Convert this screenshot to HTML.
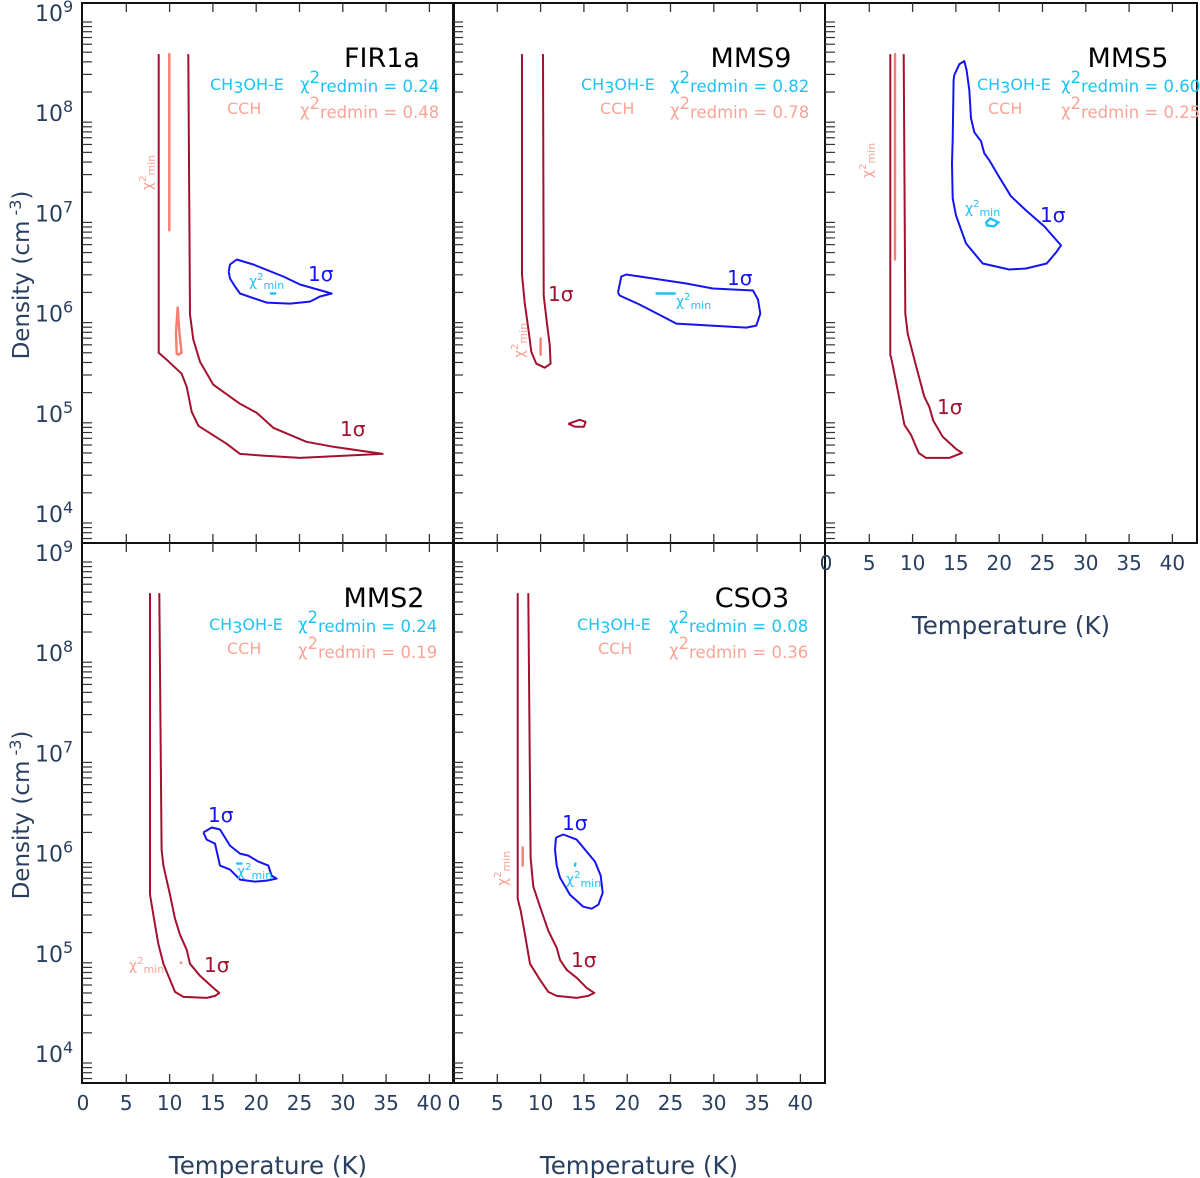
<!DOCTYPE html>
<html><head><meta charset="utf-8"><title>Contour panels</title>
<style>
html,body{margin:0;padding:0;background:#fff;}
svg{display:block;font-family:"DejaVu Sans","Liberation Sans",sans-serif;}
</style></head>
<body>
<svg id="chart" width="1200" height="1178" viewBox="0 0 1200 1178" xmlns="http://www.w3.org/2000/svg"></svg>
<script>
// ---- data (Temperature K, log10 density) ----
const xTicks = [5,10,15,20,25,30,35,40];
const xTickLabels = ['0','5','10','15','20','25','30','35','40'];
const xTickLabelValues = [0,5,10,15,20,25,30,35,40];
const yDecades = [4,5,6,7,8,9];

const fir1aRed = [[8.74,8.68],[8.74,5.70],[9.66,5.63],[11.39,5.49],[11.97,5.36],[12.55,5.11],[13.32,4.97],[16.59,4.79],[18.13,4.69],[21.21,4.67],[25.06,4.65],[34.6,4.69],[28.9,4.76],[25.8,4.81],[21.98,4.95],[20.06,5.10],[18.13,5.19],[15.05,5.38],[13.51,5.61],[12.74,5.83],[12.36,6.08],[12.16,8.68]];
const fir1aCch = [[9.97,8.68],[9.97,6.92]];
const fir1aCchLoop = [[10.82,5.69],[10.74,5.90],[10.94,6.16],[11.13,5.90],[11.39,5.70],[11.0,5.68],[10.82,5.69]];
const fir1aBlue = [[16.82,6.51],[16.97,6.58],[17.75,6.63],[19.67,6.58],[23.13,6.46],[25.06,6.38],[28.72,6.29],[27.37,6.26],[26.2,6.21],[23.9,6.19],[21.2,6.20],[18.13,6.29],[17.55,6.36],[16.97,6.44],[16.82,6.51]];
const fir1aCyanMin = [[21.7,6.29],[22.2,6.29]];

const mms9Red = [[7.85,8.68],[7.85,6.48],[8.16,6.20],[8.66,5.89],[8.93,5.71],[9.5,5.59],[10.47,5.55],[11.16,5.59],[11.05,5.78],[10.74,5.99],[10.36,6.27],[10.28,8.68]];
const mms9RedLoop = [[13.2,4.99],[14.5,5.03],[15.2,5.01],[15.0,4.96],[14.0,4.96],[13.2,4.99]];
const mms9CchMin = [[10.0,5.84],[10.0,5.68]];
const mms9Blue = [[18.94,6.30],[19.32,6.46],[19.9,6.48],[22.98,6.44],[26.83,6.39],[29.9,6.34],[34.53,6.32],[35.1,6.23],[35.37,6.09],[34.91,5.97],[33.76,5.95],[25.67,5.99],[24.13,6.06],[21.44,6.18],[19.13,6.27],[18.94,6.30]];
const mms9CyanMin = [[23.4,6.29],[25.5,6.29]];

const mms5Red = [[7.43,8.68],[7.43,5.68],[7.62,5.61],[8.2,5.36],[9.05,4.98],[9.82,4.88],[10.7,4.70],[11.55,4.65],[14.24,4.65],[15.7,4.70],[15.01,4.74],[13.47,4.86],[12.39,5.02],[11.93,5.16],[11.35,5.26],[10.39,5.57],[9.43,5.89],[9.16,6.09],[8.97,8.68]];
const mms5Cch = [[7.97,8.68],[7.97,6.63]];
const mms5Blue = [[14.82,8.47],[15.4,8.58],[15.97,8.61],[16.24,8.52],[16.55,8.32],[16.74,8.04],[17.13,7.90],[17.9,7.81],[18.28,7.69],[18.86,7.62],[20.01,7.45],[21.36,7.26],[23.09,7.12],[25.21,6.96],[27.14,6.77],[26.56,6.70],[25.48,6.59],[23.09,6.54],[21.17,6.53],[18.09,6.59],[16.17,6.79],[15.01,7.07],[14.63,7.24],[14.55,7.59],[14.63,7.83],[14.74,8.42],[14.82,8.47]];
const mms5CyanMin = [[18.5,7.0],[19.0,7.04],[19.9,7.0],[19.4,6.96],[18.6,6.97],[18.5,7.0]];

const mms2Red = [[7.74,8.69],[7.74,5.68],[8.2,5.44],[8.7,5.19],[9.28,4.99],[10.05,4.83],[10.62,4.71],[11.59,4.66],[14.28,4.65],[15.24,4.67],[15.74,4.70],[15.05,4.75],[13.51,4.87],[12.36,4.99],[11.97,5.13],[11.2,5.28],[10.62,5.44],[10.05,5.68],[9.28,5.97],[9.08,6.13],[8.81,8.69]];
const mms2CchMin = [[11.3,5.0],[11.35,5.0]];
const mms2Blue = [[13.9,6.30],[14.86,6.35],[15.82,6.33],[16.97,6.17],[18.13,6.09],[19.09,6.07],[20.24,6.01],[21.4,5.97],[21.78,5.87],[22.36,5.84],[21.2,5.82],[19.86,5.81],[18.13,5.83],[16.97,5.93],[15.82,5.97],[15.24,6.19],[14.28,6.23],[13.9,6.30]];
const mms2CyanMin = [[17.8,5.99],[18.3,5.99]];

const cso3Red = [[7.35,8.69],[7.35,5.64],[7.7,5.52],[8.2,5.28],[8.78,4.99],[9.35,4.91],[9.93,4.83],[10.89,4.71],[11.86,4.67],[14.17,4.65],[15.51,4.67],[16.2,4.70],[15.32,4.75],[14.17,4.85],[13.01,4.93],[12.24,5.03],[11.86,5.15],[10.89,5.32],[9.93,5.56],[9.16,5.76],[8.85,6.05],[8.58,8.69]];
const cso3CchMin = [[7.93,6.15],[7.93,5.97]];
const cso3Blue = [[11.78,6.25],[12.62,6.28],[14.17,6.23],[15.13,6.13],[16.28,6.01],[16.94,5.87],[17.17,5.70],[16.67,5.58],[15.9,5.54],[14.93,5.56],[13.39,5.68],[12.24,5.85],[11.86,5.97],[11.66,6.13],[11.78,6.25]];
const cso3CyanMin = [[13.97,5.97],[14.02,5.99]];

const chi2Methanol = ['0.24','0.82','0.60','0.24','0.08'];
const chi2Cch = ['0.48','0.78','0.25','0.19','0.36'];

// ---- layout ----
const NS='http://www.w3.org/2000/svg';
const svg=document.getElementById('chart');
const RED='#a3112e', PINK='#f47e70', PINKTXT='#f9a497', BLUE='#1414f0', CYAN='#1fc2f5', AXC='#2a3f5f';
const panels=[
 {id:'fir1a',title:'FIR1a',left:82,top:3,red:[fir1aRed],pink:[fir1aCch,fir1aCchLoop],blue:fir1aBlue,cyan:fir1aCyanMin,ci:0,
  titleX:382,legX:210,chiX:300,cchX:227,
  blue1s:[308,281],red1s:[340,436],cyanLbl:[249,286],pinkLbl:{x:152,y:190,rot:true}},
 {id:'mms9',title:'MMS9',left:453,top:3,red:[mms9Red,mms9RedLoop],pink:[mms9CchMin],blue:mms9Blue,cyan:mms9CyanMin,ci:1,
  titleX:751,legX:581,chiX:670,cchX:600,
  blue1s:[727,285],red1s:[548,301],cyanLbl:[676,306],pinkLbl:{x:524,y:358,rot:true}},
 {id:'mms5',title:'MMS5',left:825,top:3,red:[mms5Red],pink:[mms5Cch],blue:mms5Blue,cyan:mms5CyanMin,ci:2,
  titleX:1128,legX:977,chiX:1061,cchX:988,
  blue1s:[1040,222],red1s:[937,414],cyanLbl:[965,213],pinkLbl:{x:872,y:178,rot:true}},
 {id:'mms2',title:'MMS2',left:82,top:543,red:[mms2Red],pink:[mms2CchMin],blue:mms2Blue,cyan:mms2CyanMin,ci:3,
  titleX:384,legX:209,chiX:298,cchX:227,
  blue1s:[208,822],red1s:[204,972],cyanLbl:[237,876],pinkLbl:{x:129,y:970,rot:false}},
 {id:'cso3',title:'CSO3',left:453,top:543,red:[cso3Red],pink:[cso3CchMin],blue:cso3Blue,cyan:cso3CyanMin,ci:4,
  titleX:752,legX:577,chiX:669,cchX:598,
  blue1s:[562,830],red1s:[571,967],cyanLbl:[566,884],pinkLbl:{x:507,y:886,rot:true}}
];
const W=372,H=540;
function px(p,T){return p.left+1+8.66*T;}
function py(p,L){return p.top+19+(9-L)*100.2;}

function el(tag,attrs,parent){const e=document.createElementNS(NS,tag);for(const k in attrs)e.setAttribute(k,attrs[k]);(parent||svg).appendChild(e);return e;}
function path(p,pts){return pts.map((d,i)=>(i?'L':'M')+px(p,d[0]).toFixed(1)+' '+py(p,d[1]).toFixed(1)).join(' ');}
function chiText(g,x,y,val,color,fs){
  const t=el('text',{x:x,y:y,fill:color,'font-size':fs},g);
  
  
  const a=el('tspan',{},t);a.textContent='χ';
  const b=el('tspan',{dy:-7,'font-size':fs}, t);b.textContent='2';
  const c=el('tspan',{dy:9},t);c.textContent='redmin = '+val;
}

panels.forEach(p=>{
  const g=el('g',{});
  
  
  const fr=el('rect',{x:p.left,y:p.top,width:W,height:H,fill:'none',stroke:'#111','stroke-width':2},g);
  
  
  xTicks.forEach(T=>{
    const x=px(p,T);
    const t1=el('line',{x1:x,x2:x,y1:p.top,y2:p.top+9,stroke:'#333','stroke-width':1.3},g);
    
    
    const t2=el('line',{x1:x,x2:x,y1:p.top+H-9,y2:p.top+H,stroke:'#333','stroke-width':1.3},g);
    
    
  });
  for(let d=3;d<=9;d++){for(let k=1;k<=9;k++){
    const L=d+Math.log10(k);
    const y=py(p,L);
    if(y<p.top+2||y>p.top+H-2)continue;
    const t=el('line',{x1:p.left,x2:p.left+10,y1:y,y2:y,stroke:'#333','stroke-width':1.2},g);
    
    
  }}
  p.red.forEach(c=>{const e=el('path',{d:path(p,c),fill:'none',stroke:RED,'stroke-width':2,'stroke-linejoin':'round'},g);
    
    });
  p.pink.forEach(c=>{const e=el('path',{d:path(p,c),fill:'none',stroke:PINK,'stroke-width':2.4,'stroke-linecap':'round'},g);
    
    });
  const b=el('path',{d:path(p,p.blue),fill:'none',stroke:BLUE,'stroke-width':2,'stroke-linejoin':'round'},g);
  
  
  const cy=el('path',{d:path(p,p.cyan),fill:'none',stroke:CYAN,'stroke-width':2.4,'stroke-linecap':'round'},g);
  
  
  const tt=el('text',{x:p.titleX,y:p.top+64,'text-anchor':'middle','font-size':27,fill:'#000'},g);
  
  
  tt.textContent=p.title;
  const m=el('text',{x:p.legX,y:p.top+87,'font-size':16,fill:CYAN},g);
  
  
  const m1=el('tspan',{},m);m1.textContent='CH';
  const m2=el('tspan',{dy:3},m);m2.textContent='3';
  const m3=el('tspan',{dy:-3},m);m3.textContent='OH-E';
  chiText(g,p.chiX,p.top+87,chi2Methanol[p.ci],CYAN,16.5);
  const c=el('text',{x:p.cchX,y:p.top+111,'font-size':16,fill:PINKTXT},g);
  
  
  c.textContent='CCH';
  chiText(g,p.chiX,p.top+113,chi2Cch[p.ci],PINKTXT,16.5);
  const bs=el('text',{x:p.blue1s[0],y:p.blue1s[1],'font-size':20,fill:BLUE},g);
  
  
  bs.textContent='1σ';
  const rs=el('text',{x:p.red1s[0],y:p.red1s[1],'font-size':20,fill:RED},g);
  
  
  rs.textContent='1σ';
  const cl=el('text',{x:p.cyanLbl[0],y:p.cyanLbl[1],'font-size':14,fill:CYAN},g);
  
  
  const cl1=el('tspan',{},cl);cl1.textContent='χ';
  const cl2=el('tspan',{dy:-6,'font-size':10},cl);cl2.textContent='2';
  const cl3=el('tspan',{dy:9,'font-size':11},cl);cl3.textContent='min';
  const pl=el('text',{x:0,y:0,'font-size':14,fill:PINKTXT,transform:p.pinkLbl.rot?('translate('+p.pinkLbl.x+','+p.pinkLbl.y+') rotate(-90)'):('translate('+p.pinkLbl.x+','+p.pinkLbl.y+')')},g);
  
  
  const pl1=el('tspan',{},pl);pl1.textContent='χ';
  const pl2=el('tspan',{dy:-6,'font-size':10},pl);pl2.textContent='2';
  const pl3=el('tspan',{dy:9,'font-size':11},pl);pl3.textContent='min';
});

[panels[0],panels[3]].forEach(p=>{
  yDecades.forEach(d=>{
    const t=el('text',{x:35,y:py(p,d)-1,'font-size':22,fill:AXC});
    
    
    const a=el('tspan',{},t);a.textContent='10';
    const b=el('tspan',{dy:-9,'font-size':16},t);b.textContent=String(d);
  });
  const yt=el('text',{x:0,y:0,'font-size':23,fill:AXC,'text-anchor':'middle',transform:'translate(29,'+(p.top+272)+') rotate(-90)'});
  
  
  const y1=el('tspan',{},yt);y1.textContent='Density (cm';
  const y2=el('tspan',{dy:-8,'font-size':16},yt);y2.textContent=' -3';
  const y3=el('tspan',{dy:8},yt);y3.textContent=')';
});

[panels[3],panels[4],panels[2]].forEach(p=>{
  xTickLabelValues.forEach((v,i)=>{
    const t=el('text',{x:px(p,v),y:p.top+H+27,'font-size':20,fill:AXC,'text-anchor':'middle'});
    
    
    t.textContent=xTickLabels[i];
  });
  const xt=el('text',{x:p.left+186,y:p.top+H+91,'font-size':24.5,fill:AXC,'text-anchor':'middle'});
  
  
  xt.textContent='Temperature (K)';
});
</script>
</body></html>
